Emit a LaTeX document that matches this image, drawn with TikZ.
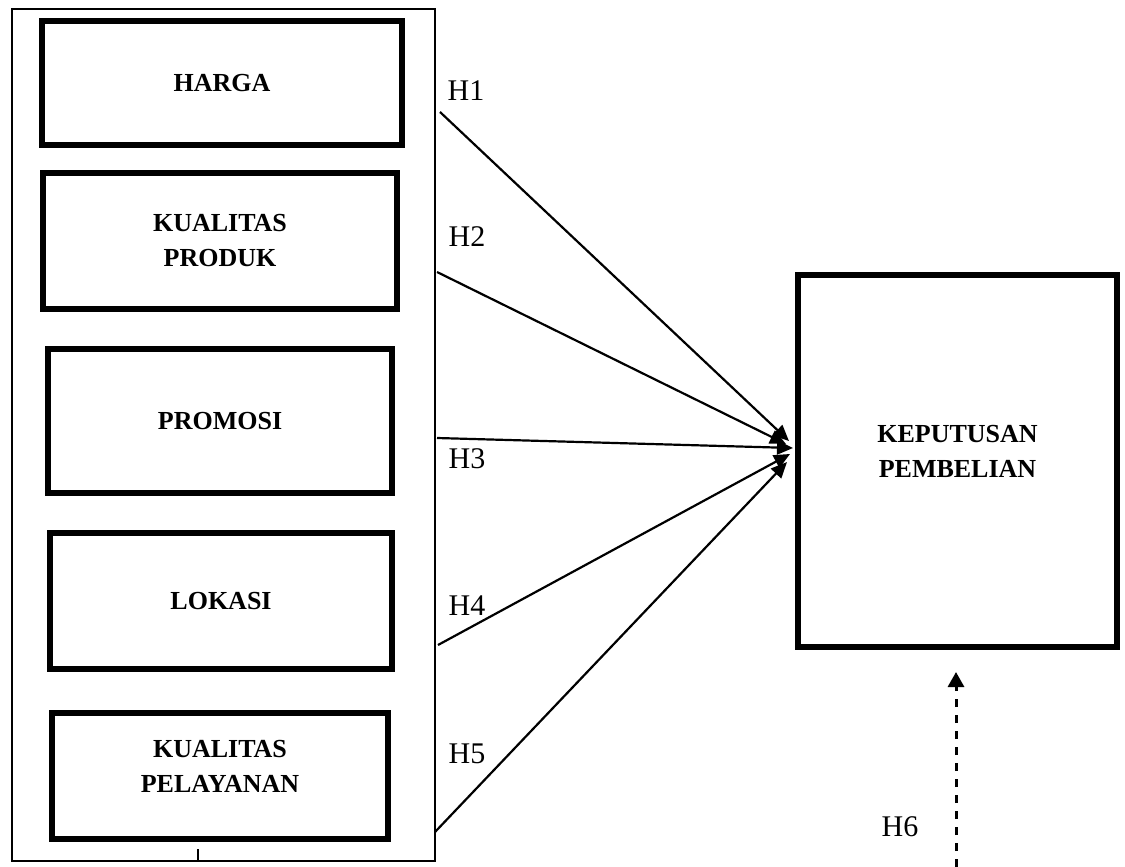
\documentclass[tikz,border=0pt]{standalone}
\usepackage{fontspec}
\setmainfont{Liberation Serif}
\usetikzlibrary{arrows.meta}
\begin{document}
\begin{tikzpicture}[x=1pt,y=-1pt,
  varbox/.style={draw,line width=5.5pt,rectangle,outer sep=0pt,inner sep=0pt,align=center,
    font=\fontsize{26}{35}\selectfont\bfseries},
  outerbox/.style={draw,line width=1.8pt},
  hlabel/.style={inner sep=0pt,font=\fontsize{30}{36}\selectfont},
  link/.style={line width=2.2pt,-{Triangle[length=16pt,width=14pt]}},
  dlink/.style={line width=3pt,dash pattern=on 8pt off 8pt,-{Triangle[length=15pt,width=16pt]}}
]
\useasboundingbox (0,0) rectangle (1125,867);
% outer frame
\draw[outerbox] (12,9) rectangle (435,861);
\coordinate (tickA) at (198,849);
\coordinate (tickB) at (198,861);
\draw[line width=2.5pt] (tickA) -- (tickB);
% variable boxes
\node[varbox,minimum width=360pt,minimum height=124pt] (harga) at (222,83) {HARGA};
\node[varbox,minimum width=354pt,minimum height=136pt] (produk) at (220,241) {KUALITAS\\PRODUK};
\node[varbox,minimum width=344pt,minimum height=144pt] (promosi) at (220,421) {PROMOSI};
\node[varbox,minimum width=342pt,minimum height=136pt] (lokasi) at (221,601) {LOKASI};
\node[varbox,minimum width=336pt,minimum height=126pt] (pelayanan) at (220,776) {};
\node[font=\fontsize{26}{35}\selectfont\bfseries,align=center,inner sep=0pt] (pelayananT) at (220,766) {KUALITAS\\PELAYANAN};
\node[varbox,minimum width=319pt,minimum height=372pt] (kp) at (957.5,461) {};
\node[font=\fontsize{26}{35}\selectfont\bfseries,align=center,inner sep=0pt] (kpT) at (957.5,451) {KEPUTUSAN\\PEMBELIAN};
% connector ends
\coordinate (s1) at (440,112);
\coordinate (s2) at (437,272);
\coordinate (s3) at (437,438);
\coordinate (s4) at (438,645);
\coordinate (s5) at (435,832);
\coordinate (e1) at (789,441);
\coordinate (e2) at (786,444);
\coordinate (e3) at (793,448);
\coordinate (e4) at (790,454);
\coordinate (e5) at (787,462);
\draw[link] (s1) -- (e1);
\draw[link] (s2) -- (e2);
\draw[link] (s3) -- (e3);
\draw[link] (s4) -- (e4);
\draw[link] (s5) -- (e5);
\coordinate (d1) at (956,867);
\coordinate (d2) at (956,672);
\draw[dlink] (d1) -- (d2);
% labels
\node[hlabel] (h1) at (466,91) {H1};
\node[hlabel] (h2) at (467,237) {H2};
\node[hlabel] (h3) at (467,459) {H3};
\node[hlabel] (h4) at (467,606) {H4};
\node[hlabel] (h5) at (467,754) {H5};
\node[hlabel] (h6) at (900,827) {H6};
\end{tikzpicture}
\end{document}
